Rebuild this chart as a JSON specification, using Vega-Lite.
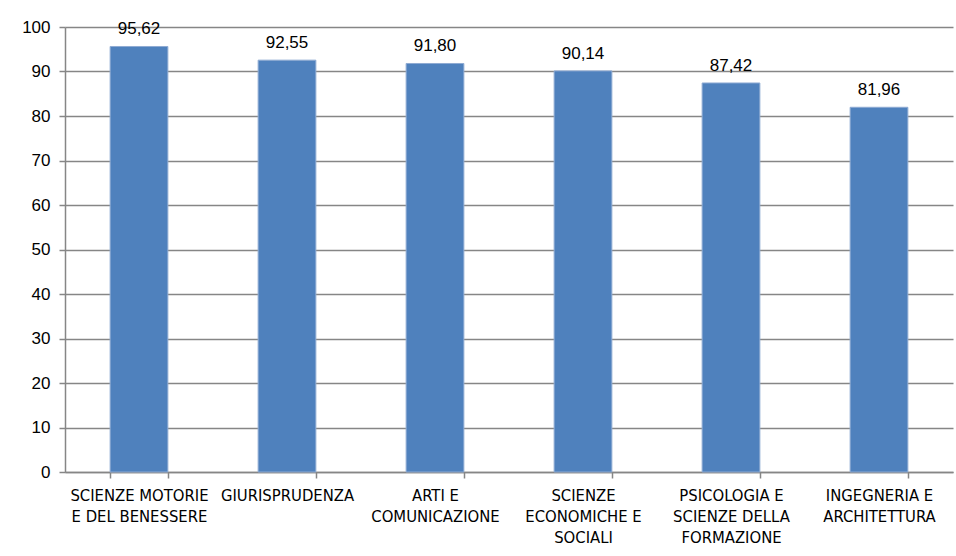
{
  "$schema": "https://vega.github.io/schema/vega-lite/v6.json",
  "autosize": "none",
  "width": 888,
  "height": 445,
  "padding": {"left": 65, "top": 27, "right": 3, "bottom": 84},
  "background": "white",
  "config": {
    "view": {"stroke": null},
    "locale": {"number": {"decimal": ",", "thousands": ".", "grouping": [3], "currency": ["€", ""]}}
  },
  "data": {
    "values": [
      {"facolta": "SCIENZE MOTORIE E DEL BENESSERE", "perc": 95.62},
      {"facolta": "GIURISPRUDENZA", "perc": 92.55},
      {"facolta": "ARTI E COMUNICAZIONE", "perc": 91.80},
      {"facolta": "SCIENZE ECONOMICHE E SOCIALI", "perc": 90.14},
      {"facolta": "PSICOLOGIA E SCIENZE DELLA FORMAZIONE", "perc": 87.42},
      {"facolta": "INGEGNERIA E ARCHITETTURA", "perc": 81.96}
    ]
  },
  "encoding": {
    "x": {
      "field": "facolta",
      "type": "nominal",
      "sort": null,
      "scale": {"paddingInner": 0.61, "paddingOuter": 0.305},
      "axis": {
        "title": null,
        "labelAngle": 0,
        "labelFont": "DejaVu Sans Condensed",
        "labelFontSize": 16.5,
        "labelColor": "#000000",
        "labelLimit": 200,
        "labelLineHeight": 21,
        "labelPadding": 9,
        "labelBaseline": "top",
        "labelExpr": "datum.label == 'SCIENZE MOTORIE E DEL BENESSERE' ? ['SCIENZE MOTORIE', 'E DEL BENESSERE'] : datum.label == 'ARTI E COMUNICAZIONE' ? ['ARTI E', 'COMUNICAZIONE'] : datum.label == 'SCIENZE ECONOMICHE E SOCIALI' ? ['SCIENZE', 'ECONOMICHE E', 'SOCIALI'] : datum.label == 'PSICOLOGIA E SCIENZE DELLA FORMAZIONE' ? ['PSICOLOGIA E', 'SCIENZE DELLA', 'FORMAZIONE'] : datum.label == 'INGEGNERIA E ARCHITETTURA' ? ['INGEGNERIA E', 'ARCHITETTURA'] : datum.label",
        "tickBand": "extent",
        "tickColor": "#868686",
        "tickSize": 6,
        "tickWidth": 1.5,
        "domainColor": "#868686",
        "domainWidth": 1.5
      }
    },
    "y": {
      "field": "perc",
      "type": "quantitative",
      "scale": {"domain": [0, 100], "nice": false},
      "axis": {
        "title": null,
        "values": [0, 10, 20, 30, 40, 50, 60, 70, 80, 90, 100],
        "labelFont": "Liberation Sans",
        "labelFontSize": 17,
        "labelColor": "#000000",
        "labelPadding": 9,
        "tickColor": "#868686",
        "tickSize": 6,
        "tickWidth": 1.5,
        "domainColor": "#868686",
        "domainWidth": 1.5,
        "gridColor": "#868686",
        "gridWidth": 1.5
      }
    }
  },
  "layer": [
    {
      "mark": {"type": "bar", "color": "#4F81BD", "stroke": "#8fabd3", "strokeWidth": 1}
    },
    {
      "mark": {"type": "text", "baseline": "bottom", "dy": -8, "font": "Liberation Sans", "fontSize": 17, "color": "#000000"},
      "encoding": {"text": {"field": "perc", "type": "quantitative", "format": ".2f"}}
    }
  ]
}
